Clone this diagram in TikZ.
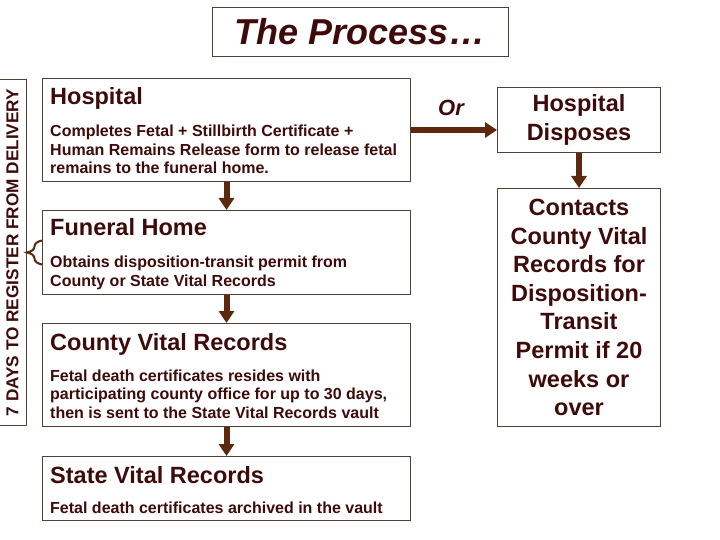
\documentclass[tikz,border=0pt]{standalone}
\usepackage{fontspec}
\setmainfont{Liberation Sans}
\usetikzlibrary{arrows.meta,decorations.pathreplacing,calc}
\definecolor{txt}{RGB}{62,10,10}
\definecolor{arr}{RGB}{92,40,14}
\definecolor{bx}{RGB}{85,62,50}
\begin{document}
\begin{tikzpicture}[x=1pt,y=-1pt,
  box/.style={draw=bx, line width=1pt, inner sep=0pt, anchor=north west},
  head/.style={font=\bfseries\fontsize{23.5}{28}\selectfont, text=txt, inner sep=0pt, anchor=base west},
  body/.style={font=\bfseries\fontsize{16}{18.5}\selectfont, text=txt, inner sep=0pt, anchor=base west, align=left},
  rhead/.style={font=\bfseries\fontsize{23.5}{28.6}\selectfont, text=txt, inner sep=0pt, align=center},
  flow/.style={draw=arr, line width=6pt, -{Triangle[width=15pt,length=12pt]}},
  bracestyle/.style={draw=arr, line width=2pt, decorate, decoration={brace, amplitude=15pt}}
]
\useasboundingbox (0,0) rectangle (720,540);
\fill[white] (0,0) rectangle (720,540);

% title
\node[box, minimum width=296, minimum height=49] (title) at (212,7) {};
\node[font=\bfseries\itshape\fontsize{36}{40}\selectfont, text=txt, anchor=base, inner sep=0pt] (titleT) at (360,45) {The Process…};

% left vertical box
\node[box, minimum width=28, minimum height=346] (days) at (-2,79) {};
\node[rotate=90, font=\bfseries\fontsize{17.2}{20}\selectfont, text=txt, inner sep=0pt] (daysT) at (days.center) {7 DAYS TO REGISTER FROM DELIVERY};

% hospital (body anchored at the baseline of its last line)
\node[box, minimum width=368, minimum height=103] (hosp) at (42,78) {};
\node[head] (hospH) at (50,105) {Hospital};
\node[body] (hospB) at (50,174) {Completes Fetal + Stillbirth Certificate +\\Human Remains Release form to release fetal\\remains to the funeral home.};

% funeral home
\node[box, minimum width=368, minimum height=84] (fh) at (42,210) {};
\node[head] (fhH) at (50,236) {Funeral Home};
\node[body] (fhB) at (50,286) {Obtains disposition-transit permit from\\County or State Vital Records};

% county vital records
\node[box, minimum width=368, minimum height=103] (cvr) at (42,323) {};
\node[head] (cvrH) at (50,350) {County Vital Records};
\node[body] (cvrB) at (50,418) {Fetal death certificates resides with\\participating county office for up to 30 days,\\then is sent to the State Vital Records vault};

% state vital records
\node[box, minimum width=368, minimum height=64] (svr) at (42,456) {};
\node[head] (svrH) at (50,483) {State Vital Records};
\node[body] (svrB) at (50,513) {Fetal death certificates archived in the vault};

% right column
\node[box, minimum width=163, minimum height=65] (hd) at (497,87) {};
\node[rhead] (hdT) at (hd.center) {Hospital\\Disposes};
\node[box, minimum width=163, minimum height=238] (ct) at (497,188) {};
\node[rhead] (ctT) at (ct.center) {Contacts\\County Vital\\Records for\\Disposition-\\Transit\\Permit if 20\\weeks or\\over};

% arrows
\draw[flow] (hosp.south) -- (fh.north);
\draw[flow] (fh.south) -- (cvr.north);
\draw[flow] (cvr.south) -- (svr.north);
\draw[flow] (hosp.east) -- (hosp.east -| hd.west);
\draw[flow] (hd.south) -- (ct.north);
\node[font=\bfseries\itshape\fontsize{22}{26}\selectfont, text=txt, anchor=base, inner sep=0pt] (or) at (451,116) {Or};

% brace
\draw[bracestyle] ($(fh.west)+(0,12)$) -- ($(fh.west)+(0,-12)$);
\end{tikzpicture}
\end{document}
